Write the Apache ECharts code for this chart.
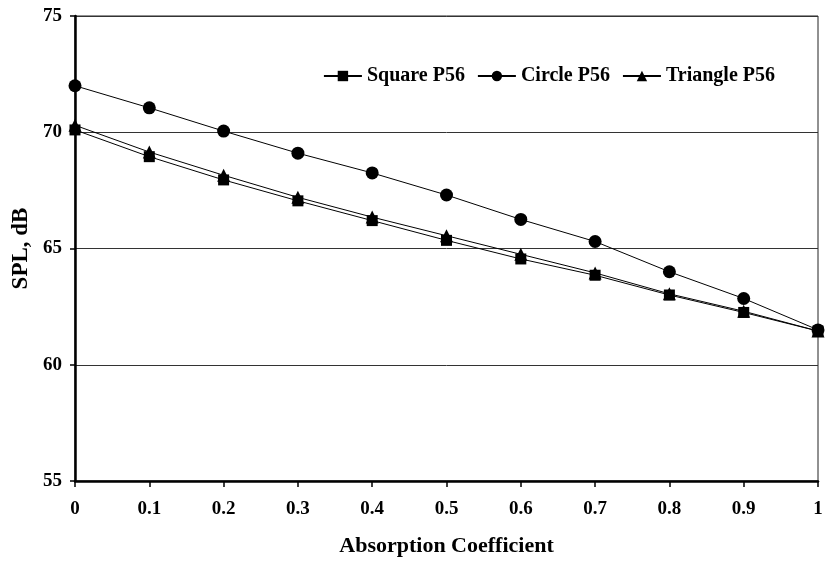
<!DOCTYPE html>
<html>
<head>
<meta charset="utf-8">
<script src="https://cdn.jsdelivr.net/npm/echarts@6/dist/echarts.min.js"></script>
<style>
  html, body { margin: 0; padding: 0; background: #fff; }
  #main { width: 830px; height: 562px; }
</style>
</head>
<body>
<div id="main"></div>
<script>
// absorption coefficient on x
var absorption = [0, 0.1, 0.2, 0.3, 0.4, 0.5, 0.6, 0.7, 0.8, 0.9, 1];
// SPL in dB
var squareP56 = [70.1, 68.95, 67.95, 67.05, 66.2, 65.35, 64.55, 63.85, 63.0, 62.25, 61.45];
var circleP56 = [72.0, 71.05, 70.05, 69.1, 68.25, 67.3, 66.25, 65.3, 64.0, 62.85, 61.5];
var triangleP56 = [70.3, 69.15, 68.15, 67.2, 66.35, 65.55, 64.75, 63.95, 63.05, 62.3, 61.45];
var seriesNames = ['Square P56', 'Circle P56', 'Triangle P56'];

var font = '"Liberation Serif", "DejaVu Serif", serif';
var myChart = echarts.init(document.getElementById('main'));

function pairs(ys) {
    var out = [];
    for (var i = 0; i < absorption.length; i++) {
        out.push([absorption[i], ys[i]]);
    }
    return out;
}

function makeSeries(name, ys, symbol, size) {
    return {
        name: name,
        type: 'line',
        data: pairs(ys),
        symbol: symbol,
        symbolSize: size,
        showAllSymbol: true,
        itemStyle: { color: '#000' },
        lineStyle: { color: '#000', width: 1 },
        emphasis: { disabled: true },
        z: 3
    };
}

var option = {
    backgroundColor: '#fff',
    animation: false,
    textStyle: { fontFamily: font },
    grid: {
        left: 75,
        right: 12,
        top: 16,
        bottom: 80,
        show: true,
        borderColor: '#222',
        borderWidth: 1
    },
    legend: {
        data: seriesNames,
        top: 61,
        right: 50,
        itemWidth: 38,
        itemHeight: 13,
        itemGap: 12,
        textStyle: { fontFamily: font, fontWeight: 'bold', fontSize: 20, color: '#000' }
    },
    xAxis: {
        type: 'value',
        min: 0,
        max: 1,
        interval: 0.1,
        name: 'Absorption Coefficient',
        nameLocation: 'middle',
        nameGap: 54,
        nameTextStyle: { fontFamily: font, fontWeight: 'bold', fontSize: 22, color: '#000' },
        axisLine: { lineStyle: { color: '#000', width: 2.5 } },
        axisTick: { show: true, length: 6, lineStyle: { color: '#000', width: 1.5 } },
        axisLabel: { margin: 19, fontFamily: font, fontWeight: 'bold', fontSize: 19, color: '#000' },
        splitLine: { show: false }
    },
    yAxis: {
        type: 'value',
        min: 55,
        max: 75,
        interval: 5,
        name: 'SPL, dB',
        nameLocation: 'middle',
        nameGap: 42,
        nameTextStyle: { fontFamily: font, fontWeight: 'bold', fontSize: 23, color: '#000' },
        axisLine: { show: true, lineStyle: { color: '#000', width: 2.5 } },
        axisTick: { show: true, length: 5, lineStyle: { color: '#000', width: 1.5 } },
        axisLabel: { margin: 13, fontFamily: font, fontWeight: 'bold', fontSize: 19, color: '#000' },
        splitLine: { show: true, lineStyle: { color: '#333', width: 1 } }
    },
    series: [
        makeSeries(seriesNames[0], squareP56, 'rect', 11),
        makeSeries(seriesNames[1], circleP56, 'circle', 13),
        makeSeries(seriesNames[2], triangleP56, 'triangle', 13)
    ]
};

myChart.setOption(option);
</script>
</body>
</html>
